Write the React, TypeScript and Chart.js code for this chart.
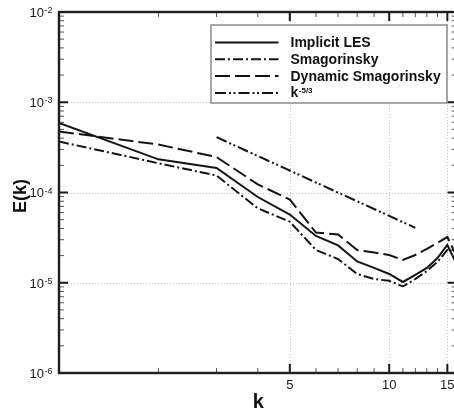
import React, { useEffect, useRef } from "react";
import { Chart, registerables } from "chart.js";

Chart.register(...registerables);

// ---- data ----
const kValues = [1, 2, 3, 4, 5, 6, 7, 8, 9, 10, 11, 12, 13, 14, 15, 16];
const implicitLES = [5.89e-4, 2.33e-4, 1.87e-4, 8.91e-5, 5.7e-5, 3.3e-5, 2.59e-5, 1.72e-5, 1.46e-5, 1.25e-5, 1.02e-5, 1.22e-5, 1.46e-5, 1.88e-5, 2.62e-5, 1.61e-5];
const smagorinsky = [3.67e-4, 2.11e-4, 1.54e-4, 6.68e-5, 4.75e-5, 2.31e-5, 1.83e-5, 1.25e-5, 1.1e-5, 1.05e-5, 9.09e-6, 1.1e-5, 1.35e-5, 1.7e-5, 2.31e-5, 2.3e-5];
const dynamicSmagorinsky = [4.74e-4, 3.4e-4, 2.47e-4, 1.23e-4, 8.36e-5, 3.6e-5, 3.43e-5, 2.31e-5, 2.16e-5, 2.03e-5, 1.79e-5, 2.03e-5, 2.37e-5, 2.76e-5, 3.21e-5, 1.98e-5];
const slopeK = [3, 12];
const slopeE = [4.1e-4, 4.06e-5];

const seriesLabels = ["Implicit LES", "Smagorinsky", "Dynamic Smagorinsky", "k"];
const slopeSuperscript = "-5/3";
const xTickLabels = [5, 10, 15];
const yTickExponents = [-2, -3, -4, -5, -6];
const xTitle = "k";
const yTitle = "E(k)";

const X_MIN = 1;
const X_MAX = 16;
const Y_MIN = 1e-6;
const Y_MAX = 1e-2;

const INK = "#141414";
const FONT = '"Liberation Sans", Arial, Helvetica, sans-serif';
const DASHES = [[], [10, 3, 2, 3], [15, 5], [11, 3, 2, 2.5, 2, 3]];

const CANVAS_W = 470;
const CANVAS_H = 415;

const framePlugin = {
  id: "tecplotFrame",
  beforeDatasetsDraw(chart: any) {
    const ctx = chart.ctx as CanvasRenderingContext2D;
    const { left, right, top, bottom } = chart.chartArea;
    const xs = chart.scales.x;
    const ys = chart.scales.y;
    ctx.save();
    ctx.strokeStyle = "#c4c4c4";
    ctx.lineWidth = 1;
    ctx.setLineDash([1, 2]);
    for (const v of xTickLabels) {
      const px = Math.round(xs.getPixelForValue(v)) + 0.5;
      ctx.beginPath();
      ctx.moveTo(px, top);
      ctx.lineTo(px, bottom);
      ctx.stroke();
    }
    for (const e of yTickExponents) {
      const v = Math.pow(10, e);
      if (v <= Y_MIN || v >= Y_MAX) continue;
      const py = Math.round(ys.getPixelForValue(v)) + 0.5;
      ctx.beginPath();
      ctx.moveTo(left, py);
      ctx.lineTo(right, py);
      ctx.stroke();
    }
    ctx.restore();
  },
  afterDatasetsDraw(chart: any) {
    const ctx = chart.ctx as CanvasRenderingContext2D;
    const { left, right, top, bottom } = chart.chartArea;
    const xs = chart.scales.x;
    const ys = chart.scales.y;
    ctx.save();
    ctx.setLineDash([]);

    // ---- tick marks (inward, on all four sides) ----
    const tick = (x1: number, y1: number, x2: number, y2: number, w: number, c: string) => {
      ctx.strokeStyle = c;
      ctx.lineWidth = w;
      ctx.beginPath();
      ctx.moveTo(x1, y1);
      ctx.lineTo(x2, y2);
      ctx.stroke();
    };
    for (let v = X_MIN + 1; v < X_MAX; v++) {
      const major = xTickLabels.includes(v);
      const len = major ? 9 : 5;
      const px = xs.getPixelForValue(v);
      const w = major ? 2 : 1;
      const c = major ? "#1a1a1a" : "#555";
      tick(px, bottom, px, bottom - len, w, c);
      tick(px, top, px, top + len, w, c);
    }
    for (let e = -6; e < -2; e++) {
      for (let m = 1; m <= 9; m++) {
        const v = m * Math.pow(10, e);
        if (v <= Y_MIN * 1.0001) continue;
        const major = m === 1;
        const len = major ? 9 : 5;
        const py = ys.getPixelForValue(v);
        const w = major ? 2 : 1;
        const c = major ? "#1a1a1a" : "#555";
        tick(left, py, left + len, py, w, c);
        tick(right, py, right - len, py, w, c);
      }
    }

    // ---- frame ----
    ctx.strokeStyle = "#1e1e1e";
    ctx.lineWidth = 2.4;
    ctx.strokeRect(left, top, right - left, bottom - top);

    // ---- y tick labels: 10^e ----
    ctx.fillStyle = "#1a1a1a";
    for (const e of yTickExponents) {
      const py = ys.getPixelForValue(Math.pow(10, e));
      ctx.font = `13px ${FONT}`;
      ctx.textAlign = "right";
      ctx.textBaseline = "alphabetic";
      ctx.fillText("10", 44, py + 4.8);
      ctx.font = `9px ${FONT}`;
      ctx.textAlign = "left";
      ctx.fillText(String(e), 44.5, py + 1);
    }

    // ---- x tick labels ----
    ctx.font = `13px ${FONT}`;
    ctx.textAlign = "center";
    ctx.textBaseline = "alphabetic";
    for (const v of xTickLabels) {
      ctx.fillText(String(v), xs.getPixelForValue(v), bottom + 15.5);
    }

    // ---- axis titles ----
    ctx.fillStyle = "#111";
    ctx.font = `bold 20px ${FONT}`;
    ctx.textAlign = "center";
    ctx.fillText(xTitle, (left + right) / 2 + 0.5, 408);
    ctx.save();
    ctx.translate(25.5, (top + bottom) / 2 + 3.5);
    ctx.rotate(-Math.PI / 2);
    ctx.font = `bold 18px ${FONT}`;
    ctx.textAlign = "center";
    ctx.fillText(yTitle, 0, 0);
    ctx.restore();

    // ---- legend ----
    const bx = 211, by = 25, bw = 236, bh = 78;
    ctx.fillStyle = "#fff";
    ctx.fillRect(bx, by, bw, bh);
    ctx.strokeStyle = "#8a8a8a";
    ctx.lineWidth = 1.5;
    ctx.strokeRect(bx, by, bw, bh);
    chart.data.datasets.forEach((ds: any, i: number) => {
      const base = 47 + i * 16.8;
      const ly = base - 4.5;
      ctx.strokeStyle = INK;
      ctx.lineWidth = 2;
      ctx.setLineDash(ds.borderDash || []);
      ctx.beginPath();
      ctx.moveTo(215, ly);
      ctx.lineTo(278.5, ly);
      ctx.stroke();
      ctx.setLineDash([]);
      ctx.fillStyle = "#111";
      ctx.font = `bold 14px ${FONT}`;
      ctx.textAlign = "left";
      ctx.textBaseline = "alphabetic";
      ctx.fillText(ds.label, 290.5, base);
      if (i === 3) {
        const w = ctx.measureText(ds.label).width;
        ctx.font = `bold 8px ${FONT}`;
        ctx.fillText(slopeSuperscript, 290.5 + w + 0.5, base - 4.5);
      }
    });
    ctx.restore();
  },
};

export default function App() {
  const ref = useRef<HTMLCanvasElement>(null);
  useEffect(() => {
    const canvas = ref.current;
    if (!canvas) return;
    const pts = (xs: number[], ys: number[]) => xs.map((x, i) => ({ x, y: ys[i] }));
    const line = (label: string, data: any[], dash: number[]) => ({
      label,
      data,
      borderColor: INK,
      backgroundColor: INK,
      borderWidth: 2,
      borderDash: dash,
      pointRadius: 0,
      tension: 0,
      fill: false,
    });
    const chart = new Chart(canvas, {
      type: "line",
      data: {
        datasets: [
          line(seriesLabels[0], pts(kValues, implicitLES), DASHES[0]),
          line(seriesLabels[1], pts(kValues, smagorinsky), DASHES[1]),
          line(seriesLabels[2], pts(kValues, dynamicSmagorinsky), DASHES[2]),
          line(seriesLabels[3], pts(slopeK, slopeE), DASHES[3]),
        ],
      },
      options: {
        responsive: false,
        animation: false,
        devicePixelRatio: 1,
        events: [],
        layout: { padding: { left: 59, top: 12, right: CANVAS_W - 456.6, bottom: CANVAS_H - 373 } },
        plugins: { legend: { display: false }, tooltip: { enabled: false } },
        scales: {
          x: { type: "logarithmic", min: X_MIN, max: X_MAX, display: false },
          y: { type: "logarithmic", min: Y_MIN, max: Y_MAX, display: false },
        },
      },
      plugins: [framePlugin],
    } as any);
    return () => chart.destroy();
  }, []);
  return (
    <div
      style={{
        position: "fixed",
        left: 0,
        top: 0,
        width: 454,
        height: 415,
        overflow: "hidden",
        background: "#fff",
      }}
    >
      <canvas ref={ref} width={CANVAS_W} height={CANVAS_H} style={{ display: "block" }} />
    </div>
  );
}
